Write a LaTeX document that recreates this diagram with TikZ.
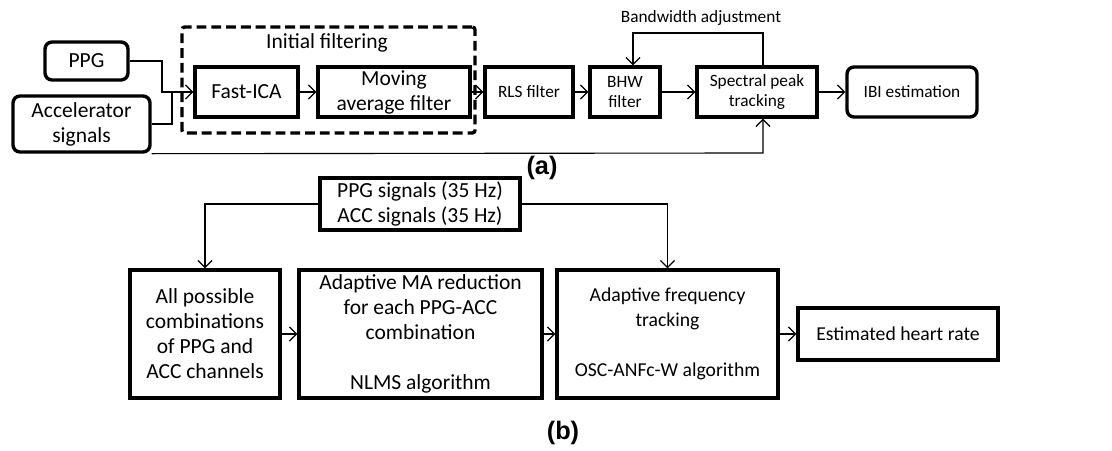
\documentclass[tikz,border=0pt]{standalone}
\usepackage{fontspec}
\setmainfont{Carlito}
\newfontfamily\etiq{Liberation Sans}
\usetikzlibrary{arrows.meta}
\tikzset{
  bloque/.style={draw, line width=2.4pt, inner sep=0pt, align=center, font=\fontsize{15.3}{17.8}\selectfont},
  bloquer/.style={bloque, rounded corners=5pt},
  chico/.style={font=\fontsize{12.3}{14.8}\selectfont},
  medio/.style={font=\fontsize{14}{17.8}\selectfont},
  texto/.style={inner sep=0pt, font=\fontsize{15.3}{17.8}\selectfont},
  flecha/.style={line width=0.8pt, -{Straight Barb[length=5pt,width=10pt]}},
  linea/.style={line width=0.8pt},
  grupo/.style={draw, line width=2.4pt, dash pattern=on 7pt off 3.5pt, rounded corners=2pt},
  rotulo/.style={inner sep=0pt, font=\etiq\bfseries\fontsize{18}{21}\selectfont},
}

\begin{document}
\begin{tikzpicture}[x=0.025cm,y=-0.025cm]
        \useasboundingbox (0,0) rectangle (1112,451);
        % Parte (a)
        \node[grupo, minimum width=7.325cm, minimum height=2.65cm] (ini) at (328.5,80) {};
        \node[texto] (tini) at (327,43) {Initial filtering};
        \node[bloquer, minimum width=2.075cm, minimum height=0.95cm] (ppg) at (86.5,61) {PPG};
        \node[bloquer, minimum width=3.425cm, minimum height=1.4cm] (acc) at (81.5,124) {Accelerator\\signals};
        \node[bloque, minimum width=2.575cm, minimum height=1.25cm] (ica) at (246.5,92) {Fast-ICA};
        \node[bloque, minimum width=3.8cm, minimum height=1.25cm] (mavg) at (394,92) {Moving\\average filter};
        \node[bloque, chico, minimum width=2.2cm, minimum height=1.25cm] (rls) at (529,92) {RLS filter};
        \node[bloque, chico, minimum width=1.75cm, minimum height=1.25cm] (bhw) at (625,92) {BHW\\filter};
        \node[bloque, chico, minimum width=3.0cm, minimum height=1.25cm] (spt) at (757,92) {Spectral peak\\tracking};
        \node[bloquer, chico, minimum width=3.25cm, minimum height=1.25cm] (ibi) at (912,92) {IBI estimation};
        \node[texto, chico] (tbw) at (701,18) {Bandwidth adjustment};
        % Entradas
        \coordinate (mrg1) at (162,92);
        \coordinate (mrg2) at (172,92);
        \draw[flecha] (ppg.east) -| (mrg1) -- (ica.west);
        \draw[linea] (acc.east) -| (mrg2);
        % Cadena principal
        \draw[flecha] (ica) -- (mavg);
        \draw[flecha] (mavg) -- (rls);
        \draw[flecha] (rls) -- (bhw);
        \draw[flecha] (bhw) -- (spt);
        \draw[flecha] (spt) -- (ibi);
        % Realimentación
        \coordinate (fb1) at (763,33);
        \coordinate (fb2) at (633,33);
        \draw[flecha] (spt.north -| fb1) -- (fb1) -- (fb2) -- (bhw.north -| fb2);
        % Línea de abajo
        \coordinate (byp) at (763,153);
        \draw[flecha] (acc.south east) -- (byp) -- (spt.south -| byp);
        \node[rotulo] (la) at (542,168) {(a)};
        % Parte (b)
        \node[bloque, minimum width=5.0cm, minimum height=1.3cm] (sig) at (420,204) {PPG signals (35 Hz)\\ACC signals (35 Hz)};
        \node[bloque, minimum width=3.75cm, minimum height=3.2cm] (comb) at (205,334) {All possible\\combinations\\of PPG and\\ACC channels};
        \node[bloque, minimum width=6.075cm, minimum height=3.2cm] (nlms) at (420.5,334) {Adaptive MA reduction\\for each PPG-ACC\\combination\\[17.8pt]NLMS algorithm};
        \node[bloque, medio, minimum width=5.525cm, minimum height=3.2cm] (frq) at (667.5,334) {Adaptive frequency\\tracking\\[17.8pt]OSC-ANFc-W algorithm};
        \node[bloque, medio, minimum width=5.0cm, minimum height=1.3cm] (hr) at (898,334) {Estimated heart rate};
        \draw[flecha] (sig.west) -| (comb.north);
        \draw[flecha] (sig.east) -| (frq.north);
        \draw[flecha] (comb) -- (nlms);
        \draw[flecha] (nlms) -- (frq);
        \draw[flecha] (frq) -- (hr);
        \node[rotulo] (lb) at (563,433) {(b)};
\end{tikzpicture}
\end{document}
